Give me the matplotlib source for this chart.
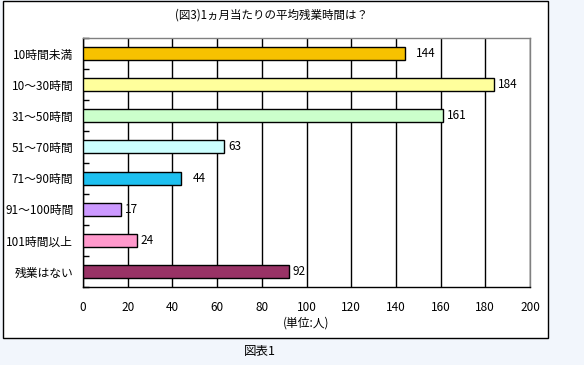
import matplotlib.pyplot as plt
import matplotlib.patches as patches
import numpy as np

plt.rcParams['font.family'] = ['Noto Sans CJK JP', 'DejaVu Sans']

# データ
categories = ['10時間未満', '10～30時間', '31～50時間', '51～70時間',
              '71～90時間', '91～100時間', '101時間以上', '残業はない']
counts = [144, 184, 161, 63, 44, 17, 24, 92]
bar_colors = ['#f7c200', '#ffff9c', '#ccffcc', '#ccffff',
              '#1ec0f0', '#cc99ff', '#ff99cc', '#993366']
xticks = [0, 20, 40, 60, 80, 100, 120, 140, 160, 180, 200]
title = '(図3)1ヵ月当たりの平均残業時間は？'
xlabel = '(単位:人)'
caption = '図表1'

fig = plt.figure(figsize=(5.84, 3.65), dpi=100)
fig.patch.set_facecolor('#f2f6fc')

# 外枠
W, H = 584, 365
frame = patches.Rectangle((3 / W, 1 - 338 / H), 545 / W, 337 / H,
                          transform=fig.transFigure, facecolor='white',
                          edgecolor='black', linewidth=1.0, zorder=-1)
fig.patches.append(frame)

ax = fig.add_axes([83 / W, 1 - 287 / H, 447 / W, 249 / H])
ax.set_zorder(2)
ax.set_facecolor('white')

y = np.arange(len(categories))
ax.barh(y, counts, height=0.42, color=bar_colors, edgecolor='black',
        linewidth=1.0, zorder=3)

# 数値ラベル（144 と 44 は少し離れている）
extra = {0: 5, 4: 5}
for i, v in enumerate(counts):
    ax.annotate(str(v), (v, i), xytext=(3 + extra.get(i, 0), 0),
                textcoords='offset points', va='center', ha='left',
                fontsize=8.5)

ax.set_xlim(0, 200)
ax.set_ylim(len(categories) - 0.5, -0.5)
ax.set_xticks(xticks)
ax.set_xticklabels([str(t) for t in xticks], fontsize=8.5)
ax.set_yticks(y)
ax.set_yticklabels(categories, fontsize=8.5)
ax.set_yticks(np.arange(len(categories) + 1) - 0.5, minor=True)
ax.tick_params(axis='y', which='major', length=0, pad=7)
ax.tick_params(axis='y', which='minor', direction='in', length=4, width=1)
ax.tick_params(axis='x', which='major', length=0, pad=10)

ax.grid(axis='x', color='black', linewidth=1.0, zorder=1)
ax.set_axisbelow(True)

for s in ['left', 'bottom']:
    ax.spines[s].set_color('black')
    ax.spines[s].set_linewidth(1.0)
for s in ['top', 'right']:
    ax.spines[s].set_color('#808080')
    ax.spines[s].set_linewidth(1.0)

fig.text(272 / W, 1 - 15 / H, title, ha='center', va='center', fontsize=8.3)
fig.text(306 / W, 1 - 323 / H, xlabel, ha='center', va='center', fontsize=8.5)
fig.text(260 / W, 1 - 351 / H, caption, ha='center', va='center', fontsize=9)

fig.savefig('out.png', dpi=100, facecolor=fig.get_facecolor())
